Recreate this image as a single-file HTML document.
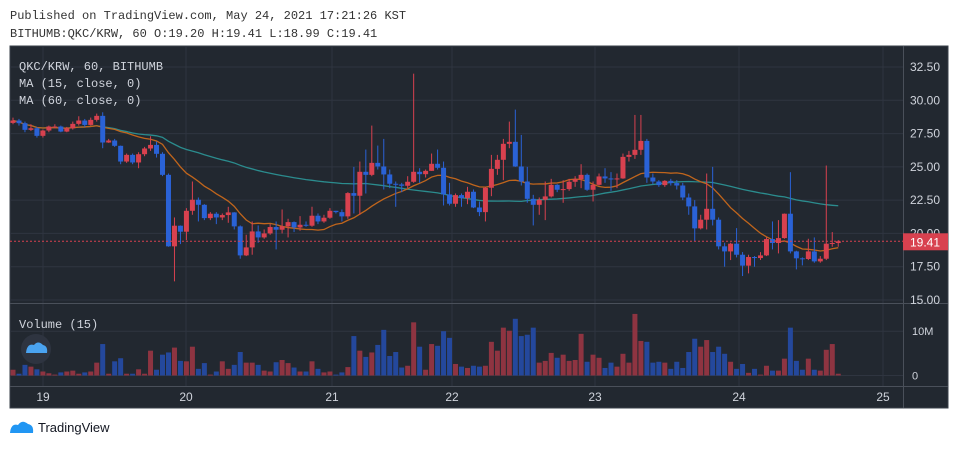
<!DOCTYPE html>
<html><head><meta charset="utf-8">
<style>
body{margin:0;width:960px;height:450px;background:#fff;overflow:hidden;font-family:"Liberation Mono","DejaVu Sans Mono",monospace;}
.hdr{position:absolute;left:10px;font-size:12px;color:#333;}
svg{position:absolute;left:0;top:0;}
</style></head><body>
<div class="hdr" style="top:9px">Published on TradingView.com, May 24, 2021 17:21:26 KST</div>
<div class="hdr" style="top:27px">BITHUMB:QKC/KRW, 60 O:19.20 H:19.41 L:18.99 C:19.41</div>
<svg id="chart" width="960" height="450"></svg>
<script>
const dayLabels=["19","20","21","22","23","24","25"];
const dayX=[43,186,332,452,595,739,883];
const priceTicks=[15,17.5,20,22.5,25,27.5,30,32.5];
const volTicks=[0,10];
const closes=[28.48,28.28,27.78,27.90,27.33,27.73,28.03,28.03,27.65,27.90,28.23,28.48,28.15,28.53,28.83,26.83,26.98,26.58,25.40,25.90,25.33,25.95,26.38,26.65,25.98,24.40,19.03,20.58,20.13,21.70,22.53,22.15,21.15,21.48,21.20,21.38,21.58,20.53,18.35,18.95,20.15,19.70,20.00,20.48,20.28,20.53,20.85,20.45,20.65,20.58,21.33,20.90,21.18,21.70,21.60,21.28,23.03,22.83,24.63,24.40,25.30,25.03,24.43,23.73,23.68,23.58,23.88,24.63,24.45,24.70,25.23,24.93,22.93,22.23,22.88,22.65,23.13,21.95,21.60,23.43,24.85,25.53,26.73,26.88,25.03,23.90,22.60,22.15,22.53,22.78,23.65,23.28,23.33,23.88,24.08,24.40,23.28,23.65,24.28,24.13,24.08,24.13,25.75,25.90,26.28,26.95,24.20,23.90,23.63,23.95,23.78,23.60,22.70,22.03,20.38,21.03,21.85,21.03,19.03,18.65,19.23,18.40,17.58,18.23,18.15,18.35,19.58,19.28,19.65,21.48,18.65,18.13,18.08,18.65,17.90,18.10,19.23,19.28,19.41];
const opens=[28.30,28.48,28.28,27.78,27.90,27.33,27.73,28.03,28.03,27.65,27.90,28.23,28.48,28.15,28.53,28.83,26.83,26.98,26.58,25.40,25.90,25.33,25.95,26.38,26.65,25.98,24.40,19.03,20.58,20.13,21.70,22.53,22.15,21.15,21.48,21.20,21.38,21.58,20.53,18.35,18.95,20.15,19.70,20.00,20.48,20.28,20.53,20.85,20.45,20.65,20.58,21.33,20.90,21.18,21.70,21.60,21.28,23.03,22.83,24.63,24.40,25.30,25.03,24.43,23.73,23.68,23.58,23.88,24.63,24.45,24.70,25.23,24.93,22.93,22.23,22.88,22.65,23.13,21.95,21.60,23.43,24.85,25.53,26.73,26.88,25.03,23.90,22.60,22.15,22.53,22.78,23.65,23.28,23.33,23.88,24.08,24.40,23.28,23.65,24.28,24.13,24.08,24.13,25.75,25.90,26.28,26.95,24.20,23.90,23.63,23.95,23.78,23.60,22.70,22.03,20.38,21.03,21.85,21.03,19.03,18.65,19.23,18.40,17.58,18.23,18.15,18.35,19.58,19.28,19.65,21.48,18.65,18.13,18.08,18.65,17.90,18.10,19.23,19.28];
const highs=[28.7,28.6,28.4,28.2,28.0,27.8,28.1,28.2,28.1,28.0,28.4,28.8,28.6,28.7,29.0,29.1,27.1,27.1,26.6,26.0,26.0,26.1,26.5,27.3,26.9,26.1,24.5,21.2,20.6,21.9,23.9,22.7,22.2,21.6,21.6,21.5,22.0,21.6,20.6,19.9,20.9,20.6,20.3,20.7,20.9,21.8,21.1,20.9,21.3,20.9,22.0,21.5,21.4,21.9,21.7,21.8,23.1,25.0,25.4,26.3,28.1,26.6,27.1,24.8,23.9,23.8,24.3,32.0,24.9,24.8,26.0,26.3,25.4,23.8,23.0,23.0,23.5,23.3,22.4,23.5,25.9,25.9,27.1,28.4,29.3,27.4,25.0,22.9,22.7,23.9,24.1,23.7,24.0,24.1,24.3,25.2,24.5,23.9,24.5,24.9,24.6,24.5,26.0,26.2,28.9,28.9,27.1,24.5,24.0,24.0,24.1,24.0,23.8,23.0,22.5,21.4,24.5,25.0,21.2,19.3,19.3,20.4,18.6,18.4,18.3,18.6,19.7,20.9,21.0,21.5,24.6,18.7,18.2,19.6,19.7,18.3,25.1,20.1,19.5];
const lows=[28.2,28.1,27.6,27.7,27.2,27.2,27.6,27.9,27.6,27.6,27.8,28.1,28.0,28.1,28.4,26.4,26.8,26.5,25.2,25.3,25.2,24.9,25.8,26.2,25.7,24.3,19.0,16.4,19.2,19.5,21.4,20.9,21.0,21.0,20.7,21.0,20.8,20.3,18.1,18.3,18.4,19.3,19.6,19.9,18.8,20.0,19.7,20.1,20.2,20.5,20.5,20.7,20.8,21.1,21.5,20.9,21.1,21.5,21.4,23.0,24.3,24.8,23.3,23.4,22.0,23.1,23.4,23.8,23.8,24.2,24.7,24.8,22.1,22.1,22.0,22.0,22.2,21.9,21.3,20.9,22.8,24.4,24.0,26.4,25.0,23.6,22.3,20.6,21.4,21.0,22.7,23.1,22.3,23.2,23.5,23.4,23.2,22.4,23.6,23.8,23.2,23.4,24.1,25.4,25.6,25.9,23.8,23.7,23.5,23.5,23.6,23.3,22.5,21.4,19.4,20.3,20.3,20.6,18.8,17.5,18.0,18.2,16.8,17.0,17.5,18.0,18.3,18.8,18.5,19.6,18.5,17.3,17.6,18.0,17.8,17.8,18.0,19.0,19.0];
const volumes=[1.3,0.4,2.4,2.0,1.4,0.9,0.5,0.2,0.7,0.9,1.1,0.4,0.7,0.9,2.9,7.1,0.4,3.2,3.9,0.4,0.4,1.4,0.4,5.6,1.3,4.7,5.2,6.3,3.3,3.2,6.5,1.5,2.8,0.2,0.9,3.2,1.5,2.4,5.3,2.9,2.9,2.4,1.1,0.9,3.0,3.5,2.8,1.8,0.9,0.9,3.2,1.5,0.7,0.9,0.2,0.7,1.9,8.9,5.6,4.2,5.2,6.9,10.3,4.4,5.3,1.8,2.2,12.0,6.5,1.3,7.1,6.7,10.0,8.5,2.6,2.0,1.7,2.2,2.0,2.2,7.6,5.6,10.8,10.1,12.8,8.9,9.2,10.8,2.9,3.3,5.1,4.0,4.7,3.3,3.5,9.4,3.1,4.7,4.0,1.7,2.9,2.0,4.9,2.9,13.9,7.8,7.6,2.9,3.1,2.9,1.5,3.1,1.7,5.3,8.3,6.5,8.0,5.3,6.5,4.9,3.1,1.5,2.6,0.6,1.5,0.2,2.2,1.1,1.1,3.8,10.8,3.3,1.3,3.8,1.3,1.1,5.8,7.1,0.4];
const lastPrice=19.41;

const NS="http://www.w3.org/2000/svg";
const svg=document.getElementById('chart');
function mk(tag,attrs,parent){const e=document.createElementNS(NS,tag);for(const k in attrs)e.setAttribute(k,attrs[k]);(parent||svg).appendChild(e);return e;}
const X=i=>13+i*5.98;
const Y=p=>300-(p-15)*13.314;
const VY=v=>375.5-v*4.43;
const UP="#d8414f",DN="#2a62d6",UPV="#8e3441",DNV="#24489c";

let e;
e=mk('rect',{x:10,y:46,width:938,height:362,fill:'#222830',stroke:'#3a404a'});

// grid
priceTicks.forEach(t=>{e=mk('line',{x1:10,x2:903,y1:Y(t),y2:Y(t),stroke:'#2f3540'});
});
volTicks.forEach(t=>{e=mk('line',{x1:10,x2:903,y1:VY(t),y2:VY(t),stroke:'#2f3540'});
});
dayX.forEach(x=>{e=mk('line',{x1:x,x2:x,y1:46,y2:386,stroke:'#2f3540'});
});
// separators
e=mk('line',{x1:10,x2:948,y1:303.5,y2:303.5,stroke:'#4a505a'});

e=mk('line',{x1:903.5,x2:903.5,y1:46,y2:408,stroke:'#4a505a'});

e=mk('line',{x1:10,x2:948,y1:386.5,y2:386.5,stroke:'#4a505a'});

// volume bars
volumes.forEach((v,i)=>{const up=closes[i]>=opens[i];
e=mk('rect',{x:X(i)-2.5,y:VY(v),width:5,height:375.5-VY(v),fill:up?UPV:DNV});
});
// MAs
function ma(n){return closes.map((c,i)=>{const s=closes.slice(Math.max(0,i-n+1),i+1);return s.reduce((a,b)=>a+b,0)/s.length;});}
[[60,'#2b8c8e'],[15,'#c0651c']].forEach(([n,col])=>{const m=ma(n);
e=mk('polyline',{points:m.map((v,i)=>X(i)+','+Y(v)).join(' '),fill:'none',stroke:col,'stroke-width':1.3});
});
// candles
closes.forEach((c,i)=>{const o=opens[i],up=c>=o,col=up?UP:DN;
e=mk('line',{x1:X(i),x2:X(i),y1:Y(highs[i]),y2:Y(lows[i]),stroke:col,'stroke-width':1});

const t=Y(Math.max(o,c)),b=Y(Math.min(o,c));
e=mk('rect',{x:X(i)-2.5,y:t,width:5,height:Math.max(1,b-t),fill:col});
});
// last price line
e=mk('line',{x1:10,x2:903,y1:Y(lastPrice),y2:Y(lastPrice),stroke:'#d8414f','stroke-dasharray':'2,2'});

// price axis labels
priceTicks.forEach(t=>{e=mk('text',{x:940,y:Y(t)+4,'text-anchor':'end','font-size':12,fill:'#d0d4dc','font-family':'Liberation Sans, sans-serif'});
e.textContent=t.toFixed(2);
});
e=mk('rect',{x:903,y:Y(lastPrice)-8,width:45,height:17,fill:'#d8414f'});

e=mk('text',{x:940,y:Y(lastPrice)+5,'text-anchor':'end','font-size':12,fill:'#fff','font-family':'Liberation Sans, sans-serif'});
e.textContent=lastPrice.toFixed(2);

volTicks.forEach(t=>{e=mk('text',{x:912,y:VY(t)+4,'font-size':11,fill:'#d0d4dc','font-family':'Liberation Sans, sans-serif'});
e.textContent=t===0?'0':t+'M';
});
// time labels
dayLabels.forEach((d,i)=>{e=mk('text',{x:dayX[i],y:401,'text-anchor':'middle','font-size':12,fill:'#d0d4dc','font-family':'Liberation Sans, sans-serif'});
e.textContent=d;
});
// legends
[['QKC/KRW, 60, BITHUMB',70],['MA (15, close, 0)',87],['MA (60, close, 0)',104],['Volume (15)',328]].forEach(([s,y],k)=>{
e=mk('text',{x:19,y:y,'font-size':12,fill:'#d0d4dc','font-family':'Liberation Mono, monospace'});
e.textContent=s;
});
// watermark logo circle
e=mk('circle',{cx:36,cy:349,r:15,fill:'#2e3440'});

e=mk('path',{d:'M26 353 Q27 343 34 345 Q38 340 43 345 Q48 346 47 353 Z',fill:'#4aa3f0'});

// bottom TradingView
e=mk('path',{d:'M10 433 Q11 423 18 425 Q22 419 28 424 Q34 425 33 433 Z',fill:'#2196f3'});

e=mk('text',{x:38,y:432,'font-size':13,fill:'#131722','font-family':'Liberation Sans, sans-serif'});
e.textContent='TradingView';

</script>
</body></html>
